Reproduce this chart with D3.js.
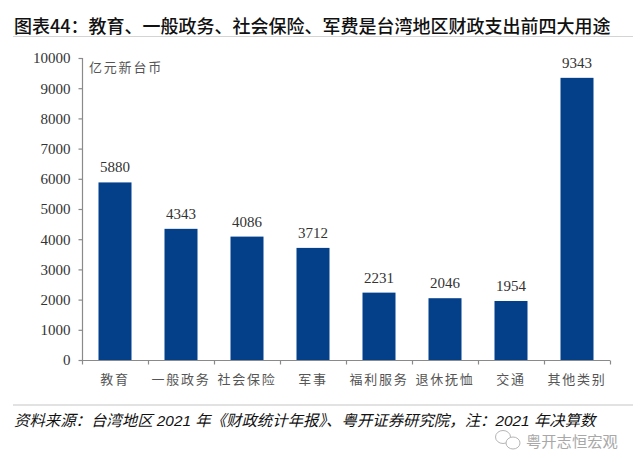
<!DOCTYPE html>
<html><head><meta charset="utf-8">
<script src="https://cdnjs.cloudflare.com/ajax/libs/d3/7.8.5/d3.min.js"></script>
<style>html,body{margin:0;padding:0;background:#fff}svg{display:block}</style></head>
<body><svg id="c" width="640" height="471"></svg>
<script>
const categories=["教育","一般政务","社会保险","军事","福利服务","退休抚恤","交通","其他类别"];
const values=[5880,4343,4086,3712,2231,2046,1954,9343];
const yTicks=[0,1000,2000,3000,4000,5000,6000,7000,8000,9000,10000];
const titleText="图表44：教育、一般政务、社会保险、军费是台湾地区财政支出前四大用途";
const unitText="亿元新台币";
const sourceText="资料来源：台湾地区 2021 年《财政统计年报》、粤开证券研究院，注：2021 年决算数";
const watermarkText="粤开志恒宏观";

const cjk='"Noto Sans CJK SC","Noto Sans",sans-serif';
const serif='"Liberation Serif",serif';
const svg=d3.select("#c");
const x=d3.scaleBand().domain(categories).range([82,610]).paddingInner(0.5).paddingOuter(0.25);
const y=d3.scaleLinear().domain([0,10000]).range([360,58]);

svg.append("text").attr("x",14).attr("y",33).attr("font-family",cjk).attr("font-weight",500)
  .attr("font-size",18).attr("fill","#111").text(titleText);
svg.append("line").attr("x1",13).attr("x2",633).attr("y1",36.5).attr("y2",36.5).attr("stroke","#d4d4d4").attr("stroke-width",1);
svg.append("line").attr("x1",13).attr("x2",633).attr("y1",405).attr("y2",405).attr("stroke","#d8d8d8").attr("stroke-width",1.5);

svg.selectAll("rect.bar").data(values).join("rect").attr("class","bar")
  .attr("x",(d,i)=>x(categories[i])).attr("width",x.bandwidth())
  .attr("y",d=>y(d)).attr("height",d=>y(0)-y(d)).attr("fill","#04408a");

const xAxis=d3.axisBottom(d3.scaleLinear().domain([0,8]).range([82,610])).tickValues(d3.range(9)).tickSize(4).tickFormat("");
const gx=svg.append("g").attr("transform","translate(0,360.5)").call(xAxis);
const yAxis=d3.axisLeft(y).tickValues(yTicks).tickSize(4).tickPadding(8).tickFormat(d3.format("d"));
const gy=svg.append("g").attr("transform","translate(82.5,0)").call(yAxis);
[gx,gy].forEach(g=>{g.selectAll("path,line").attr("stroke","#8a8a8a").attr("stroke-width",1.2);});
gx.select("path").attr("d","M82,0H610");
gy.select("path").attr("d","M0,58V360");
gy.selectAll("text").attr("font-family",serif).attr("font-size",15).attr("fill","#333");

svg.selectAll("text.val").data(values).join("text").attr("class","val")
  .attr("x",(d,i)=>x(categories[i])+x.bandwidth()/2).attr("y",d=>y(d)-10)
  .attr("text-anchor","middle").attr("font-family",serif).attr("font-size",15).attr("fill","#333").text(d=>d);
svg.selectAll("text.cat").data(categories).join("text").attr("class","cat")
  .attr("x",d=>x(d)+x.bandwidth()/2).attr("y",384)
  .attr("text-anchor","middle").attr("font-family",cjk).attr("font-size",13).attr("letter-spacing",1.8).attr("fill","#555").text(d=>d);
svg.append("text").attr("x",89).attr("y",72).attr("font-family",cjk).attr("font-size",13).attr("letter-spacing",1.8).attr("fill","#555").text(unitText);
svg.append("text").attr("x",14).attr("y",426).attr("font-family",'"Liberation Sans",'+cjk).attr("font-style","italic")
  .attr("font-size",15.4).attr("fill","#111").text(sourceText);

const wm=svg.append("g").attr("fill","#fff").attr("stroke","#b5b5b5").attr("stroke-width",1);
wm.append("ellipse").attr("cx",503).attr("cy",437).attr("rx",7.5).attr("ry",6.5);
wm.append("ellipse").attr("cx",513).attr("cy",443).attr("rx",7).attr("ry",6);
svg.append("text").attr("x",526).attr("y",447).attr("font-family",cjk).attr("font-size",15.3).attr("fill","#a8a8a8").text(watermarkText);
</script></body></html>
